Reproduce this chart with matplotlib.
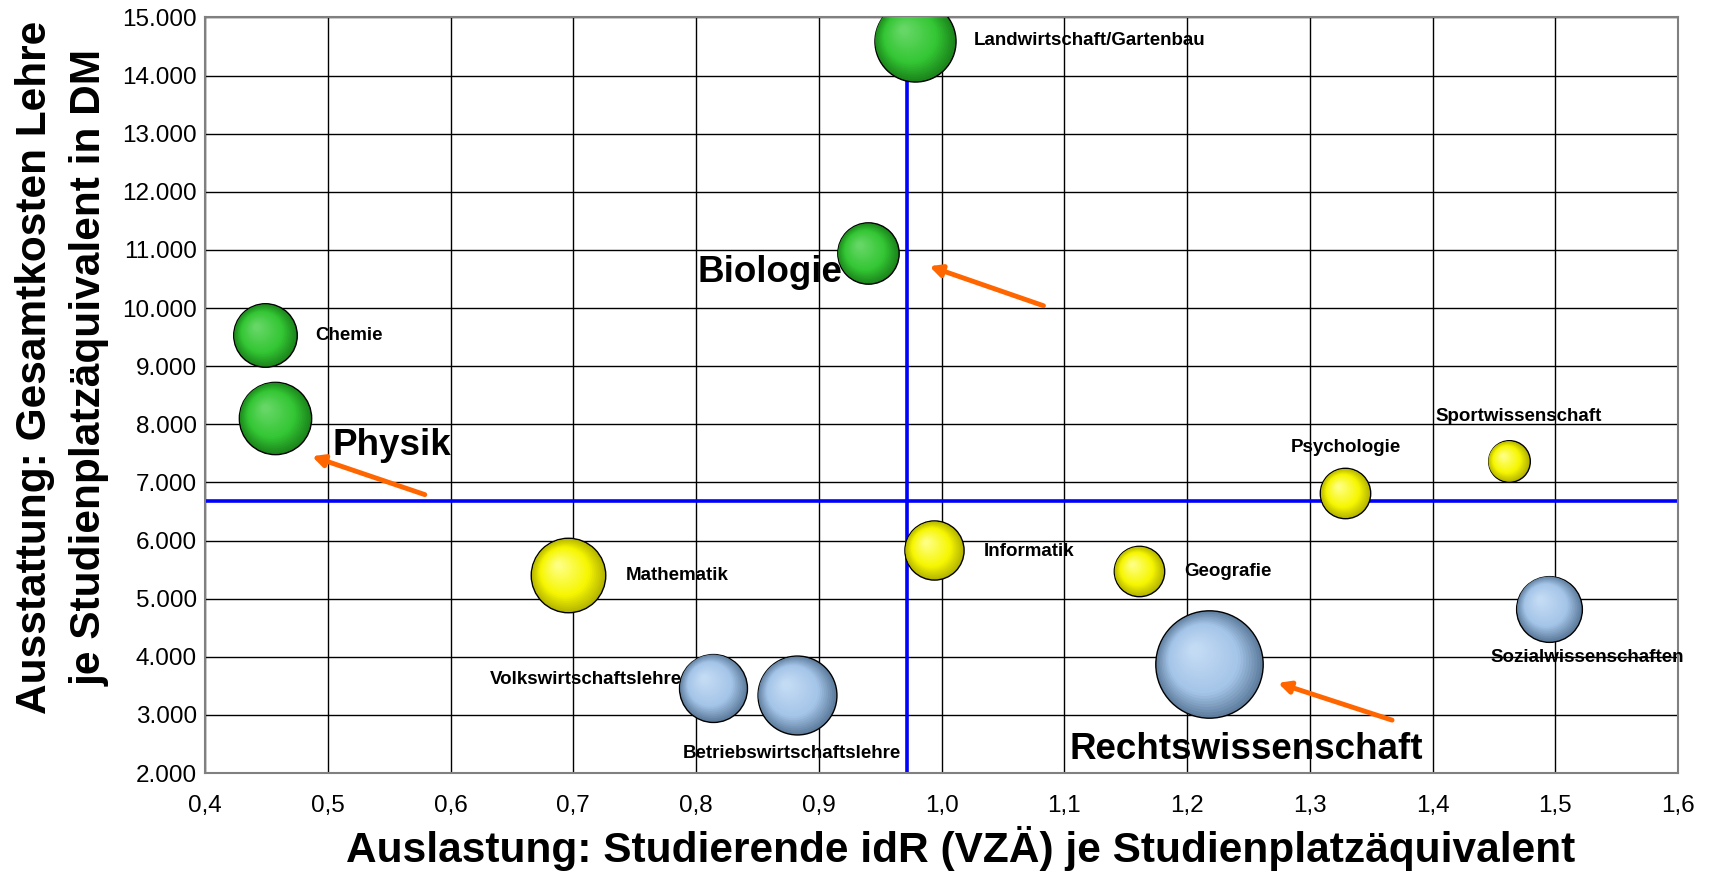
import numpy as np
import matplotlib.pyplot as plt
from matplotlib.ticker import FuncFormatter, MultipleLocator
from matplotlib.transforms import offset_copy
from matplotlib.colors import to_rgb

plt.rcParams['font.family'] = ['Liberation Sans', 'DejaVu Sans']

# Daten
faecher = ["Landwirtschaft/Gartenbau", "Biologie", "Chemie", "Physik",
           "Mathematik", "Informatik", "Geografie", "Psychologie", "Sportwissenschaft",
           "Sozialwissenschaften", "Rechtswissenschaft", "Volkswirtschaftslehre",
           "Betriebswirtschaftslehre"]
auslastung = [0.978, 0.940, 0.449, 0.457, 0.696, 0.994, 1.161, 1.329, 1.462,
              1.495, 1.218, 0.814, 0.882]
kosten = [14600, 10940, 9530, 8110, 5400, 5830, 5470, 6810, 7360,
          4830, 3870, 3470, 3340]
groesse = [1369, 784, 841, 1089, 1156, 729, 529, 529, 361, 900, 2401, 961, 1296]
gruppe = ["gruen", "gruen", "gruen", "gruen", "gelb", "gelb", "gelb", "gelb", "gelb",
          "blau", "blau", "blau", "blau"]

mittel_auslastung = 0.972
mittel_kosten = 6680

# Pfeile: (Ende x, Ende y, Spitze x, Spitze y)
pfeile = [(1.083, 10040, 0.990, 10720),
          (0.579, 6790, 0.487, 7450),
          (1.367, 2910, 1.274, 3550)]

hervorgehoben = ["Biologie", "Physik", "Rechtswissenschaft"]

# Label-Versatz in Pixeln und Ausrichtung
label_pos = {
    "Landwirtschaft/Gartenbau": (59, 0, "left"),
    "Biologie": (-26, -19, "right"),
    "Chemie": (50, 0, "left"),
    "Physik": (57, -28, "left"),
    "Mathematik": (57, 0, "left"),
    "Informatik": (50, -1, "left"),
    "Geografie": (45, 0, "left"),
    "Psychologie": (0, 46, "center"),
    "Sportwissenschaft": (10, 45, "center"),
    "Sozialwissenschaften": (38, -49, "center"),
    "Rechtswissenschaft": (37, -85, "center"),
    "Volkswirtschaftslehre": (-31, 8, "right"),
    "Betriebswirtschaftslehre": (-5, -58, "center"),
}

# Rand, Mitte, Glanzlicht
farben = {
    "gruen": ("#1c861c", "#33c633", "#6ad86a"),
    "gelb": ("#b4b400", "#f6f600", "#ffff8a"),
    "blau": ("#5f7e9e", "#a4c4e8", "#c6ddf5"),
}


def mischen(a, b, t):
    a, b = np.array(to_rgb(a)), np.array(to_rgb(b))
    return tuple(a + (b - a) * t)


fig = plt.figure(figsize=(17.19, 8.72), dpi=100)
ax = fig.add_axes([0.1193, 0.1135, 0.8569, 0.8665])

ax.set_xlim(0.4, 1.6)
ax.set_ylim(2000, 15000)
ax.xaxis.set_major_locator(MultipleLocator(0.1))
ax.yaxis.set_major_locator(MultipleLocator(1000))
ax.xaxis.set_major_formatter(FuncFormatter(lambda v, p: f"{v:.1f}".replace(".", ",")))
ax.yaxis.set_major_formatter(FuncFormatter(lambda v, p: f"{int(round(v)):,}".replace(",", ".")))
ax.grid(True, color="black", linewidth=1.0)
ax.set_axisbelow(True)
ax.tick_params(length=0, labelsize=17.5)
ax.tick_params(axis="x", pad=16)
ax.tick_params(axis="y", pad=6)
for s in ax.spines.values():
    s.set_color("#808080")
    s.set_linewidth(1.5)

# Mittelwert-Linien
ax.axvline(mittel_auslastung, color="#0000ff", linewidth=2.6, zorder=2)
ax.axhline(mittel_kosten, color="#0000ff", linewidth=2.6, zorder=2)

# Blasen mit radialem Verlauf
n_stufen = 24
for xi, yi, gi, g in zip(auslastung, kosten, groesse, gruppe):
    rand, mitte, glanz = farben[g]
    s = gi * 2.49
    r_pt = np.sqrt(s) / 2
    ax.scatter([xi], [yi], s=s, color=rand, edgecolors="black", linewidths=1.0, zorder=3)
    for k in range(1, n_stufen):
        t = k / n_stufen
        f = 1 - 0.95 * t
        if t < 0.35:
            c = mischen(rand, mitte, t / 0.35)
        else:
            c = mischen(mitte, glanz, (t - 0.35) / 0.65)
        tr = offset_copy(ax.transData, fig=fig, x=-0.28 * r_pt * t, y=0.28 * r_pt * t,
                         units="points")
        ax.scatter([xi], [yi], s=s * f ** 2, color=c, edgecolors="none", zorder=3,
                   transform=tr)

# Beschriftungen
for name, xi, yi in zip(faecher, auslastung, kosten):
    dx, dy, ha = label_pos[name]
    gross = name in hervorgehoben
    ax.annotate(name, (xi, yi), xytext=(dx, dy), textcoords="offset pixels",
                ha=ha, va="center", fontsize=26.5 if gross else 13.5,
                fontweight="bold", zorder=10)

# Pfeile
for x0, y0, x1, y1 in pfeile:
    ax.annotate("", xy=(x1, y1), xytext=(x0, y0),
                arrowprops=dict(arrowstyle="-|>,head_length=0.7,head_width=0.35",
                                color="#ff6600", lw=3.5, shrinkA=0, shrinkB=0),
                zorder=9)

ax.set_xlabel("Auslastung: Studierende idR (VZÄ) je Studienplatzäquivalent",
              fontsize=30.5, fontweight="bold", labelpad=2)
ax.xaxis.set_label_coords(0.513, -0.07)
ax.set_ylabel("Ausstattung: Gesamtkosten Lehre\nje Studienplatzäquivalent in DM",
              fontsize=30.5, fontweight="bold", linespacing=1.45)
ax.yaxis.set_label_coords(-0.065, 0.537)

fig.savefig("out.png", dpi=100)
